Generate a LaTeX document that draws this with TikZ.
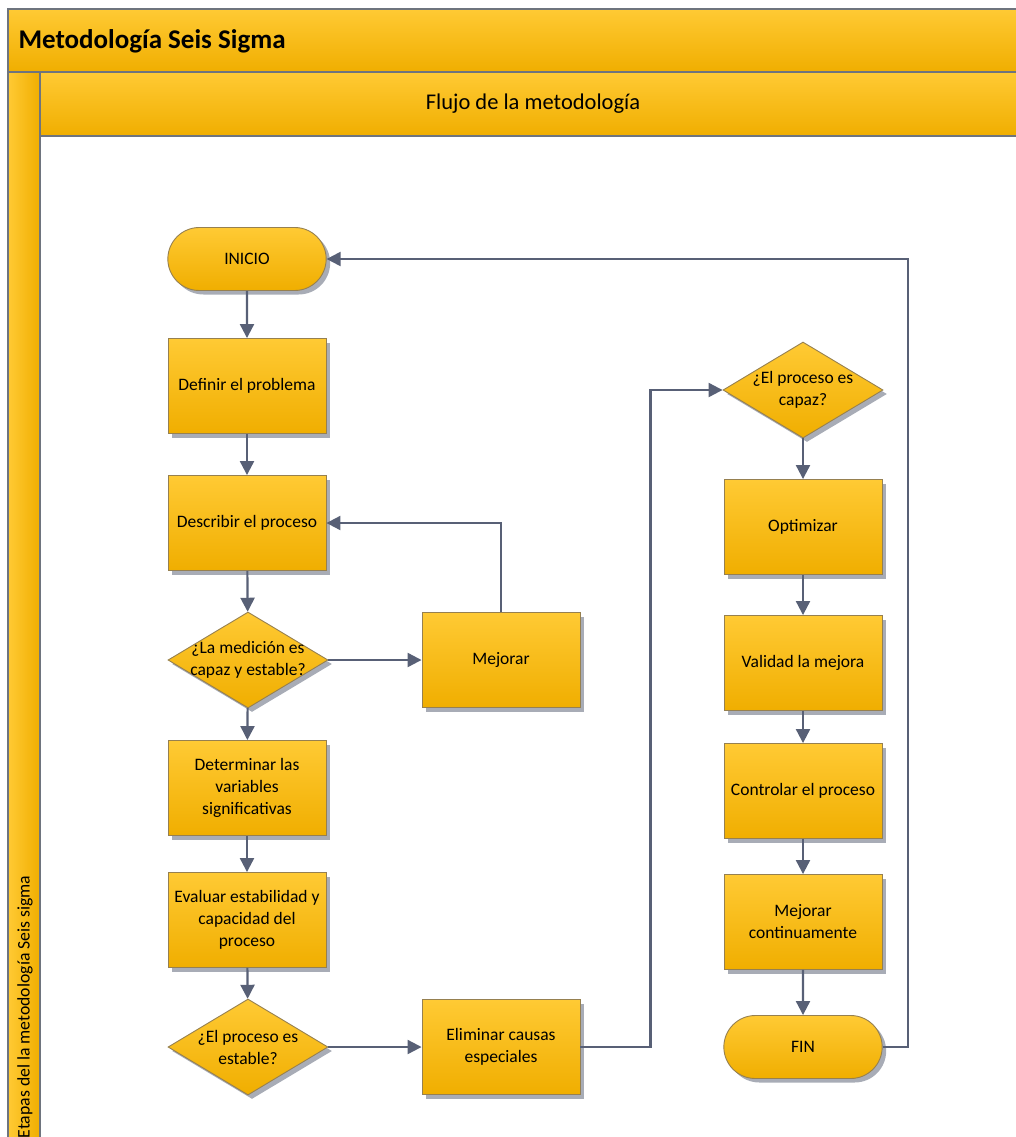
\documentclass[tikz,border=0pt]{standalone}
\usepackage{fontspec}
\setmainfont{Carlito}
\usetikzlibrary{arrows.meta,shapes.geometric,shapes.misc,shadows}

\definecolor{ylight}{RGB}{255,202,52}
\definecolor{ydark}{RGB}{240,174,0}
\definecolor{nodeborder}{RGB}{150,128,80}
\definecolor{framecol}{RGB}{110,116,126}
\definecolor{linecol}{RGB}{88,96,118}
\definecolor{shadowcol}{RGB}{168,172,182}

\tikzset{
  every node/.style={font=\fontsize{17.5}{22}\selectfont},
  boxfill/.style={draw=nodeborder, line width=0.9pt, top color=ylight, bottom color=ydark,
    general shadow={fill=shadowcol, shadow xshift=4pt, shadow yshift=-4pt}},
  procbox/.style={boxfill, rectangle, minimum width=158pt, minimum height=95pt,
    align=center, inner sep=2pt},
  termbox/.style={boxfill, rounded rectangle, minimum width=165pt, minimum height=63pt},
  decbox/.style={boxfill, diamond, minimum width=160pt, minimum height=96pt, inner sep=0pt},
  dectext/.style={align=center, inner sep=0pt},
  flow/.style={draw=linecol, line width=2.2pt, -{Triangle[length=14pt,width=14pt]}},
  frameline/.style={draw=framecol, line width=2pt},
}

\begin{document}
\begin{tikzpicture}[x=1pt,y=-1pt]
\useasboundingbox (0,0) rectangle (1016,1137);

% swimlane header bands
\fill[top color=ylight, bottom color=ydark] (8,9) rectangle (1020,72);
\fill[top color=ylight, bottom color=ydark] (40,72) rectangle (1020,136);
\fill[left color=ylight, right color=ydark] (8,72) rectangle (40,1140);
\draw[frameline] (1020,9) -- (8,9) -- (8,1140);
\draw[frameline] (8,72) -- (1020,72);
\draw[frameline] (40,1140) -- (40,72);
\draw[frameline] (40,136) -- (1020,136);

\node[anchor=west, font=\fontsize{27}{32}\selectfont\bfseries] (title) at (15,41) {Metodología Seis Sigma};
\node[font=\fontsize{22.5}{26}\selectfont] (flujo) at (533,104) {Flujo de la metodología};
\node[rotate=90, anchor=east, font=\fontsize{17.7}{20}\selectfont] (etapas) at (25,872) {Etapas del la metodología Seis sigma};

% left column
\node[termbox] (ini) at (247,259) {INICIO};
\node[procbox] (def) at (247,386) {Definir el problema};
\node[procbox] (desc) at (247,523) {Describir el proceso};
\node[decbox] (d1) at (248,660) {};
\node[dectext] (d1t) at (248,660) {¿La medición es\\capaz y estable?};
\node[procbox] (mej) at (501,660) {Mejorar};
\node[procbox] (det) at (247,788) {Determinar las\\variables\\significativas};
\node[procbox] (eval) at (247,920) {Evaluar estabilidad y\\capacidad del\\proceso};
\node[decbox] (d2) at (248,1047) {};
\node[dectext] (d2t) at (248,1047) {¿El proceso es\\estable?};
\node[procbox] (elim) at (501,1047) {Eliminar causas\\especiales};

% right column
\node[decbox] (d3) at (803,390) {};
\node[dectext] (d3t) at (803,390) {¿El proceso es\\capaz?};
\node[procbox] (opt) at (803,527) {Optimizar};
\node[procbox] (val) at (803,663) {Validad la mejora};
\node[procbox] (ctrl) at (803,791) {Controlar el proceso};
\node[procbox] (mc) at (803,922) {Mejorar\\continuamente};
\node[termbox] (fin) at (803,1047) {FIN};

% connectors
\draw[flow] (ini) -- (def);
\draw[flow] (def) -- (desc);
\draw[flow] (desc) -- (d1);
\draw[flow] (d1) -- (mej);
\draw[flow] (mej.north) |- (desc.east);
\draw[flow] (d1) -- (det);
\draw[flow] (det) -- (eval);
\draw[flow] (eval) -- (d2);
\draw[flow] (d2) -- (elim);
\draw[flow] (elim.east) -- ++(70,0) |- (d3.west);
\draw[flow] (d3) -- (opt);
\draw[flow] (opt) -- (val);
\draw[flow] (val) -- (ctrl);
\draw[flow] (ctrl) -- (mc);
\draw[flow] (mc) -- (fin);
\draw[flow] (fin.east) -- ++(25,0) |- (ini.east);
\end{tikzpicture}
\end{document}
